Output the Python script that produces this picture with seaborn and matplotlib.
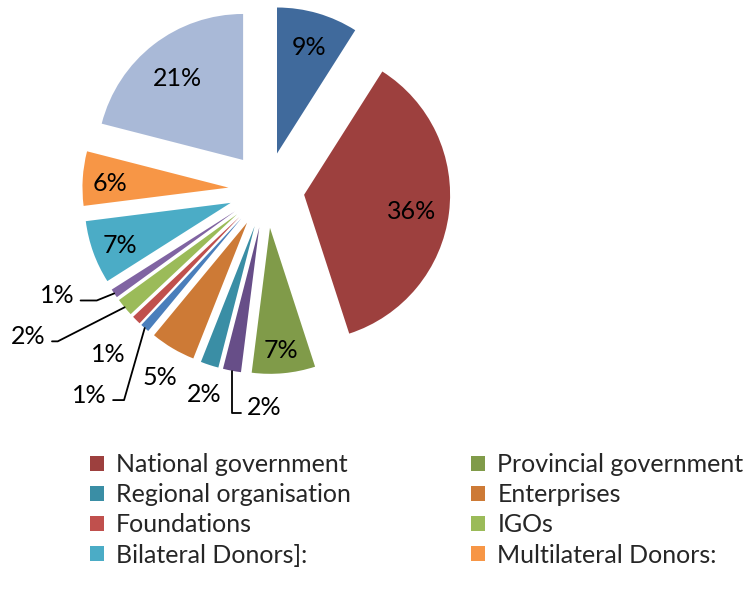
import matplotlib
matplotlib.use("Agg")
import matplotlib.pyplot as plt
import seaborn as sns
import numpy as np
from matplotlib.patches import Patch

# ---- data ----
categories = [None, "National government", "Provincial government", None,
              "Regional organisation", "Enterprises", None, "Foundations",
              "IGOs", None, "Bilateral Donors]:", "Multilateral Donors:", None]
shares = [9, 36, 7, 2, 2, 5, 1, 1, 2, 1, 7, 6, 21]
colors = ["#406A9C", "#9D403E", "#809B49", "#674E88", "#3A8EA5", "#CD7A36",
          "#4A7EBB", "#C0504D", "#9BBB59", "#8064A2", "#4BACC6", "#F79646",
          "#A9B9D7"]

sns.set_theme(style="white")
plt.rcParams['font.family'] = ['Lato', 'DejaVu Sans']

W, H = 747, 593
FS = 18
fig = plt.figure(figsize=(W / 100, H / 100), dpi=100)
ax = fig.add_axes([0, 0, 1, 1])

R = 146
EXPLODE = 38
cx, cy = 266.4, H - 190
wedges, _ = ax.pie(shares, colors=sns.color_palette(colors), startangle=90,
                   counterclock=False, radius=R, center=(cx, cy),
                   explode=[EXPLODE] * len(shares),
                   wedgeprops=dict(linewidth=0))
ax.set_xlim(0, W)
ax.set_ylim(0, H)
ax.set_aspect('equal')
ax.axis('off')

# inside labels: distance factor
inside = {0: 0.776, 1: 0.74, 2: 0.82, 10: 0.805, 11: 0.81, 12: 0.735}
# outside labels: (dx, dy screen px, leader angle or None, text side)
outside = {3: (32, 37, 90, 'right'), 4: (-5, 30, None, None),
           5: (-13, 29, None, None), 6: (-55, 67, 74, 'left'),
           7: (-28, 34, None, None), 8: (-96, 29, 27, 'left'),
           9: (-57, 2, 22, 'left')}

for i, (w, v) in enumerate(zip(wedges, shares)):
    tm = np.deg2rad((w.theta1 + w.theta2) / 2)
    d = np.array([np.cos(tm), np.sin(tm)])
    c = np.array(w.center)
    txt = f"{v}%"
    if i in inside:
        p = c + inside[i] * R * d
        ax.annotate(txt, xy=p, xytext=(0, -3), textcoords='offset pixels',
                    ha='center', va='center', fontsize=FS, color='black')
    else:
        dx, dy, ang, side = outside[i]
        anchor = c + R * d
        kw = {}
        if ang is not None:
            kw['arrowprops'] = dict(
                arrowstyle='-', color='black', lw=1.3,
                connectionstyle=f'angle,angleA=0,angleB={ang},rad=0',
                relpos=(0, 0.28) if side == 'right' else (1, 0.28),
                shrinkA=2, shrinkB=0)
        ax.annotate(txt, xy=anchor, xytext=(dx, -dy), textcoords='offset pixels',
                    ha='center', va='center', fontsize=FS, color='black', **kw)

handles = [Patch(facecolor=col, edgecolor='none', label=name)
           for name, col in zip(categories, colors) if name]
order = handles[0::2] + handles[1::2]
fig.legend(handles=order, loc='upper left', bbox_to_anchor=(90 / W, 1 - 453 / H),
           ncol=2, frameon=False, fontsize=FS, handlelength=0.55,
           handleheight=0.55, handletextpad=0.5, labelspacing=0.29,
           columnspacing=4.8, borderpad=0, borderaxespad=0)

fig.savefig("out.png", dpi=100)
